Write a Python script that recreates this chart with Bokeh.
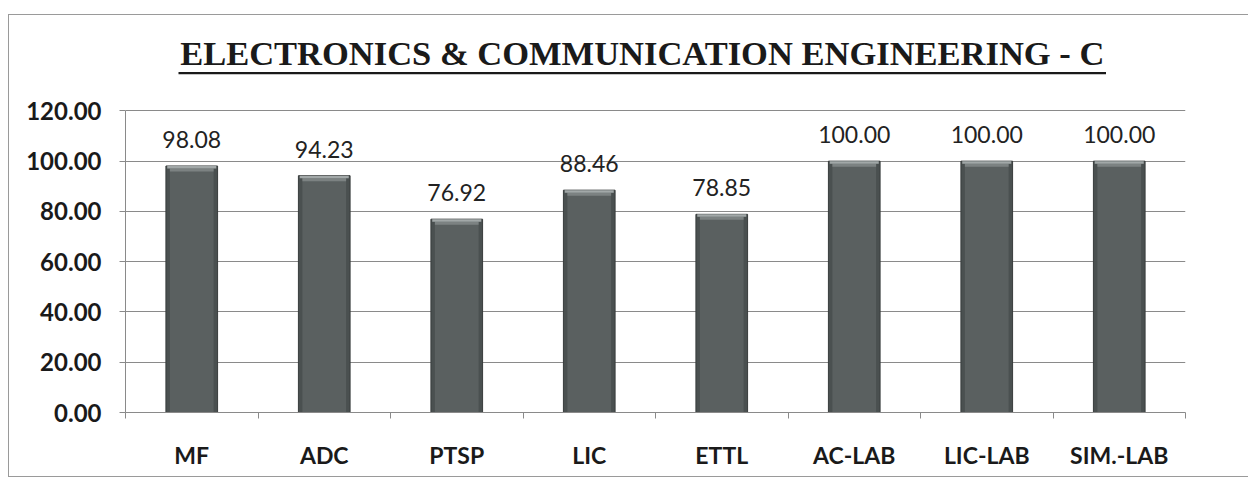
from bokeh.plotting import figure
from bokeh.models import ColumnDataSource, FixedTicker, NumeralTickFormatter, Range1d
from bokeh.core.properties import value
from bokeh.embed import file_html
from bokeh.resources import INLINE

# ---- data ----
categories = ["MF", "ADC", "PTSP", "LIC", "ETTL", "AC-LAB", "LIC-LAB", "SIM.-LAB"]
values = [98.08, 94.23, 76.92, 88.46, 78.85, 100.00, 100.00, 100.00]
y_ticks = [0, 20, 40, 60, 80, 100, 120]
title_text = "ELECTRONICS & COMMUNICATION ENGINEERING - C"

xs = [i + 0.5 for i in range(len(categories))]
src = ColumnDataSource(dict(
    x=xs, top=values,
    cap1=[v - 1.0 for v in values],
    cap2=[v - 2.2 for v in values],
    label=[f"{v:.2f}" for v in values],
))

Y_TOP = 150  # headroom above the value axis for the title
W, H = 1240, 463
p = figure(width=W, height=H, output_backend="svg", toolbar_location=None,
           x_range=Range1d(0, len(categories)), y_range=Range1d(0, Y_TOP),
           min_border_left=116, min_border_right=W - 116 - 1060,
           min_border_top=20, min_border_bottom=66,
           background_fill_color="white", border_fill_color="white")
p.outline_line_color = None
p.styles = {"margin-top": "14px", "margin-left": "8px",
            "border-top": "1px solid #9a9a9a", "border-left": "1px solid #9a9a9a",
            "border-bottom": "1px solid #9a9a9a"}

# bars (dark body with a lighter bevelled top)
p.vbar(x="x", top="top", bottom=0, width=0.39, source=src,
       fill_color="#4a5050", line_color="#383c3c", line_width=1)
p.vbar(x="x", top="cap1", bottom=0, width=0.33, source=src,
       fill_color="#5a6060", line_color=None)
p.vbar(x="x", top="cap1", bottom="cap2", width=0.33, source=src,
       fill_color="#7c8282", line_color=None)
p.vbar(x="x", top="top", bottom="cap1", width=0.37, source=src,
       fill_color="#a2a8a8", line_color=None)

# data labels
p.text(x="x", y="top", text="label", source=src, text_align="center",
       text_baseline="bottom", y_offset=-18, text_font=value("Lato"),
       text_font_size="23px", text_color="#222222")

# title + underline (in the headroom above 120)
n = len(categories)
p.text(x=[n * 0.4875], y=[143.0], text=[title_text], text_align="center",
       text_baseline="alphabetic", text_font=value("Liberation Serif"),
       text_font_style="bold", text_font_size="34.5px", text_color="#1a1a1a")
p.hbar(y=[135.0], left=[0.40], right=[7.40], height=0.9,
       fill_color="#1a1a1a", line_color=None)

# grid
p.xgrid.grid_line_color = None
p.ygrid.grid_line_color = "#8a8a8a"
p.ygrid.grid_line_width = 1
p.ygrid.ticker = FixedTicker(ticks=y_ticks)

# y axis
p.yaxis.ticker = FixedTicker(ticks=y_ticks)
p.yaxis.bounds = (0, 120)
p.yaxis.formatter = NumeralTickFormatter(format="0.00")
p.yaxis.axis_line_color = "#8a8a8a"
p.yaxis.major_tick_line_color = "#8a8a8a"
p.yaxis.major_tick_out = 6
p.yaxis.major_tick_in = 0
p.yaxis.minor_tick_line_color = None
p.yaxis.major_label_standoff = 18
p.yaxis.major_label_text_font = "Lato"
p.yaxis.major_label_text_font_style = "bold"
p.yaxis.major_label_text_font_size = "24px"
p.yaxis.major_label_text_color = "#1a1a1a"

# x axis
p.xaxis.ticker = FixedTicker(ticks=xs, minor_ticks=list(range(n + 1)))
p.xaxis.major_label_overrides = {x: c for x, c in zip(xs, categories)}
p.xaxis.axis_line_color = "#8a8a8a"
p.xaxis.major_tick_line_color = None
p.xaxis.minor_tick_line_color = "#8a8a8a"
p.xaxis.minor_tick_out = 6
p.xaxis.minor_tick_in = 0
p.xaxis.major_label_standoff = 22
p.xaxis.major_label_text_font = "Lato"
p.xaxis.major_label_text_font_style = "bold"
p.xaxis.major_label_text_font_size = "23px"
p.xaxis.major_label_text_color = "#1a1a1a"

open("out.html", "w").write(file_html(p, INLINE))
